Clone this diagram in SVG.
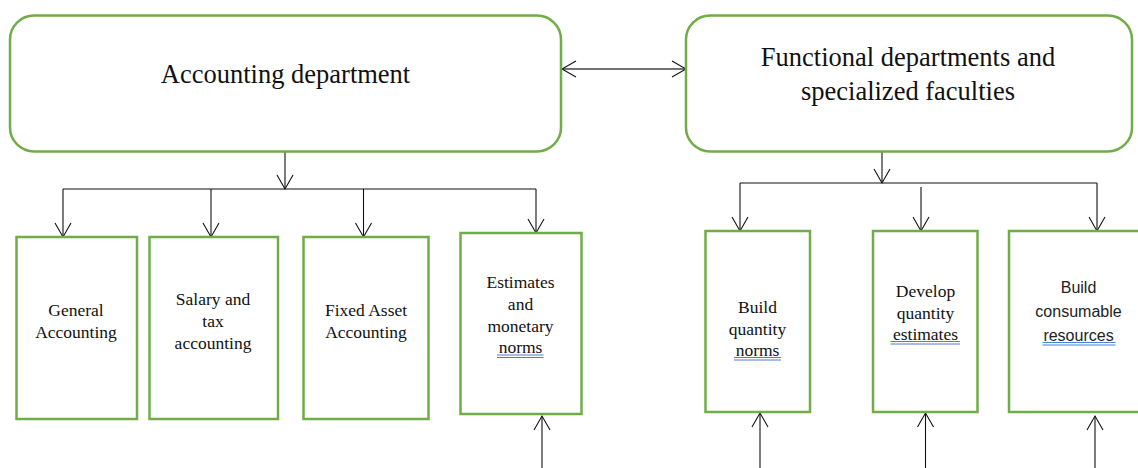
<svg xmlns="http://www.w3.org/2000/svg" width="1138" height="468" viewBox="0 0 1138 468">
  <defs>
    <style>
      .box { fill: #ffffff; stroke: #70ad47; stroke-width: 2.5; }
      .title { font-family: "Liberation Serif", "Times New Roman", serif; font-size: 26.5px; fill: #111; text-anchor: middle; }
      .lbl { font-family: "Liberation Serif", "Times New Roman", serif; font-size: 17.5px; fill: #111; text-anchor: middle; }
      .lbl-sans { font-family: "Liberation Sans", Arial, sans-serif; font-size: 16px; fill: #222; text-anchor: middle; }
      .wire { fill: none; stroke: #111; stroke-width: 1.1; }
      .link { fill: none; stroke: #444; stroke-width: 1.5; }
      .squig { fill: none; stroke: #4a7fd6; stroke-width: 1; }
    </style>
    <marker id="open" viewBox="0 0 14 16" refX="14" refY="8" markerWidth="14" markerHeight="16" markerUnits="userSpaceOnUse" orient="auto-start-reverse" overflow="visible">
      <path d="M0,0 L14,8 L0,16" fill="none" stroke="#111" stroke-width="1.1"/>
    </marker>
  </defs>

  <rect width="1138" height="468" fill="#ffffff"/>

  <!-- connectors -->
  <g id="connectors">
    <!-- peer link between the two departments -->
    <line class="link" x1="562" y1="69" x2="686" y2="69" marker-start="url(#open)" marker-end="url(#open)"/>

    <!-- accounting department fan-out -->
    <line class="wire" x1="285" y1="152" x2="285" y2="189" marker-end="url(#open)"/>
    <line class="wire" x1="63" y1="189" x2="536" y2="189"/>
    <line class="wire" x1="63" y1="189" x2="63" y2="237" marker-end="url(#open)"/>
    <line class="wire" x1="211" y1="189" x2="211" y2="237" marker-end="url(#open)"/>
    <line class="wire" x1="363.5" y1="189" x2="363.5" y2="237" marker-end="url(#open)"/>
    <line class="wire" x1="536" y1="189" x2="536" y2="233" marker-end="url(#open)"/>

    <!-- functional departments fan-out -->
    <line class="wire" x1="882" y1="152" x2="882" y2="183" marker-end="url(#open)"/>
    <line class="wire" x1="740" y1="183" x2="1097" y2="183"/>
    <line class="wire" x1="740" y1="183" x2="740" y2="231" marker-end="url(#open)"/>
    <line class="wire" x1="921" y1="187" x2="921" y2="231" marker-end="url(#open)"/>
    <line class="wire" x1="1097" y1="183" x2="1097" y2="231" marker-end="url(#open)"/>

    <!-- inputs from below -->
    <line class="wire" x1="542" y1="470" x2="542" y2="416" marker-end="url(#open)"/>
    <line class="wire" x1="760" y1="470" x2="760" y2="413" marker-end="url(#open)"/>
    <line class="wire" x1="925.5" y1="470" x2="925.5" y2="413" marker-end="url(#open)"/>
    <line class="wire" x1="1095" y1="470" x2="1095" y2="416" marker-end="url(#open)"/>
  </g>

  <!-- top-level departments -->
  <g id="accounting-department">
    <rect class="box" x="10" y="15.5" width="551" height="136" rx="24" ry="24"/>
    <text class="title" x="285.5" y="83">Accounting department</text>
  </g>

  <g id="functional-departments">
    <rect class="box" x="686" y="15.5" width="446" height="136" rx="24" ry="24"/>
    <text class="title" x="908" y="66">Functional departments and</text>
    <text class="title" x="908" y="100">specialized faculties</text>
  </g>

  <!-- accounting sections -->
  <g id="general-accounting">
    <rect class="box" x="16.5" y="237" width="120.5" height="182"/>
    <text class="lbl" x="76" y="316">General</text>
    <text class="lbl" x="76" y="337.5">Accounting</text>
  </g>

  <g id="salary-tax-accounting">
    <rect class="box" x="149.5" y="237" width="128.5" height="182"/>
    <text class="lbl" x="213" y="305">Salary and</text>
    <text class="lbl" x="213" y="327">tax</text>
    <text class="lbl" x="213" y="348.5">accounting</text>
  </g>

  <g id="fixed-asset-accounting">
    <rect class="box" x="303.5" y="237" width="125" height="182"/>
    <text class="lbl" x="366" y="316">Fixed Asset</text>
    <text class="lbl" x="366" y="337.5">Accounting</text>
  </g>

  <g id="estimates-monetary-norms">
    <rect class="box" x="460.5" y="233" width="121" height="181"/>
    <text class="lbl" x="520.5" y="288">Estimates</text>
    <text class="lbl" x="520.5" y="310">and</text>
    <text class="lbl" x="520.5" y="331.5">monetary</text>
    <text class="lbl" x="520.5" y="353">norms</text>
    <line class="squig" x1="497" y1="355" x2="543.5" y2="355"/>
    <line class="squig" x1="497" y1="357.5" x2="543.5" y2="357.5"/>
  </g>

  <!-- functional tasks -->
  <g id="build-quantity-norms">
    <rect class="box" x="705.5" y="231" width="104.5" height="181"/>
    <text class="lbl" x="757.5" y="312.5">Build</text>
    <text class="lbl" x="757.5" y="334.5">quantity</text>
    <text class="lbl" x="757.5" y="356">norms</text>
    <line class="squig" x1="734" y1="357.5" x2="781" y2="357.5"/>
    <line class="squig" x1="734" y1="360" x2="781" y2="360"/>
  </g>

  <g id="develop-quantity-estimates">
    <rect class="box" x="873" y="231" width="104.5" height="181"/>
    <text class="lbl" x="925.5" y="297">Develop</text>
    <text class="lbl" x="925.5" y="319">quantity</text>
    <text class="lbl" x="925.5" y="340">estimates</text>
    <line class="squig" x1="890.5" y1="341.5" x2="960" y2="341.5"/>
    <line class="squig" x1="890.5" y1="344" x2="960" y2="344"/>
  </g>

  <g id="build-consumable-resources">
    <rect class="box" x="1009" y="231" width="140" height="181"/>
    <text class="lbl-sans" x="1078.5" y="293">Build</text>
    <text class="lbl-sans" x="1078.5" y="317">consumable</text>
    <text class="lbl-sans" x="1078.5" y="340.5">resources</text>
    <line class="squig" x1="1042.5" y1="342.5" x2="1115.5" y2="342.5"/>
    <line class="squig" x1="1042.5" y1="345" x2="1115.5" y2="345"/>
  </g>
</svg>
